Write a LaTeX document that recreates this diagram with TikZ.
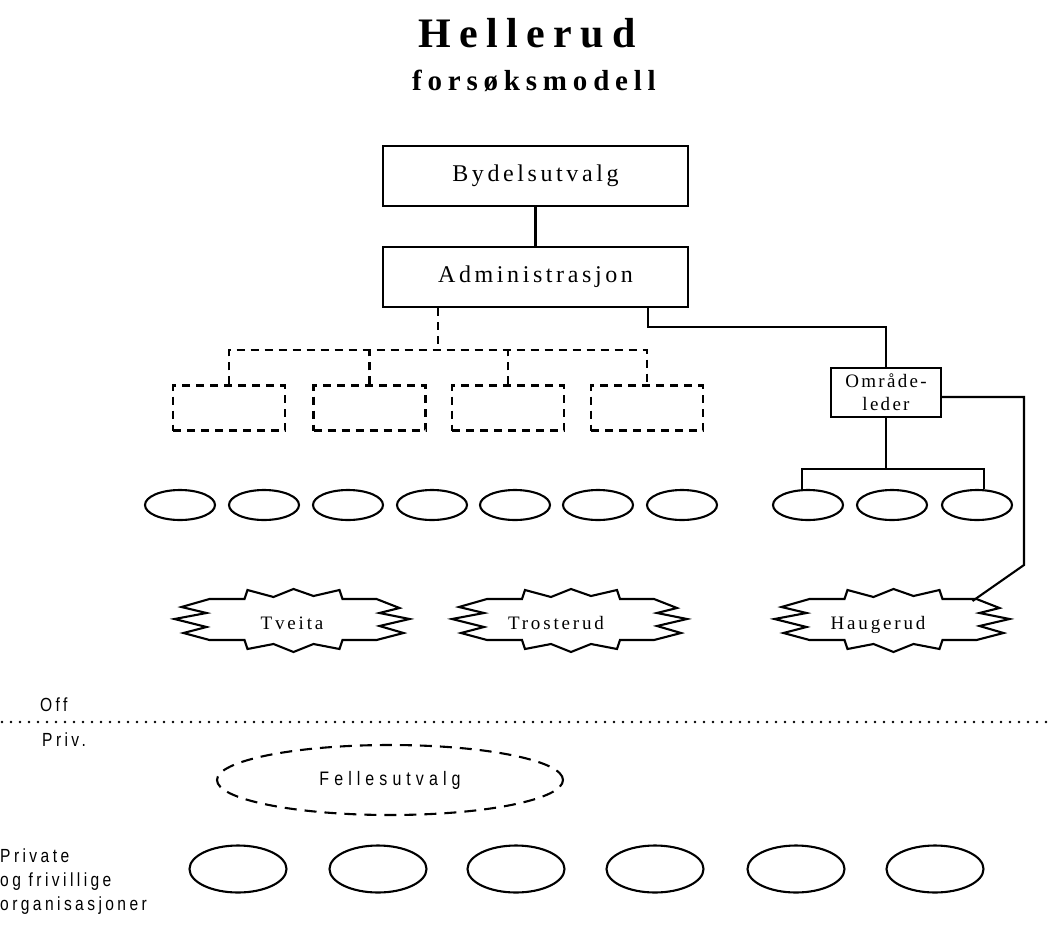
\documentclass[tikz,border=0pt]{standalone}
\usepackage{fontspec}
\setmainfont{Liberation Serif}
\newfontfamily\headfont{Liberation Serif}[LetterSpace=20]
\newfontfamily\boxfont{Liberation Serif}[LetterSpace=15]
\newfontfamily\tagfont{Liberation Sans}[FakeStretch=0.82, LetterSpace=18]
\newfontfamily\wideTagfont{Liberation Sans}[FakeStretch=0.82, LetterSpace=26]
\usetikzlibrary{shapes.geometric,calc}

\tikzset{
  wire/.style={line width=2.1pt},
  dwire/.style={line width=2.1pt, dash pattern=on 8pt off 6pt},
  box/.style={draw, line width=2.1pt, minimum width=305pt, minimum height=60pt,
    inner sep=0pt, font={\boxfont\fontsize{24}{28}\selectfont}},
  smallbox/.style={draw, line width=2.1pt, minimum width=110pt, minimum height=49pt,
    inner sep=1pt, align=center, font={\boxfont\addfontfeature{LetterSpace=12}\fontsize{19}{23}\selectfont}},
  dbox/.style={draw, line width=2.1pt, dash pattern=on 8pt off 6pt,
    minimum width=112pt, minimum height=45pt, inner sep=0pt},
  oval/.style={draw, ellipse, line width=2.1pt, minimum width=70pt,
    minimum height=30pt, inner sep=0pt},
  bigoval/.style={draw, ellipse, line width=2.1pt, minimum width=97pt,
    minimum height=47pt, inner sep=0pt},
  startext/.style={inner sep=0pt, anchor=base, font={\boxfont\fontsize{19}{23}\selectfont}},
  sidetext/.style={inner sep=0pt, anchor=west, align=left,
    font={\tagfont\fontsize{19}{24}\selectfont}},
  starburst/.pic={
    \draw[line width=2.1pt, line join=miter]
      (-83,-21) -- (-48,-21) -- (-45,-30) -- (-19,-23) -- (1,-31) -- (21,-24)
      -- (47,-30) -- (50,-21) -- (84,-21) -- (107,-12) -- (87,-7) -- (117,-1)
      -- (87,6) -- (111,13) -- (84,20) -- (50,20) -- (47,29) -- (21,24)
      -- (1,32) -- (-19,24) -- (-45,29) -- (-48,20) -- (-83,20) -- (-109,13)
      -- (-86,7) -- (-118,-1) -- (-86,-7) -- (-111,-13) -- cycle;
  }
}

\begin{document}
\begin{tikzpicture}[x=1pt, y=-1pt]
\useasboundingbox (0,0) rectangle (1049,926);

% heading
\node[anchor=base, inner sep=0pt, font={\headfont\bfseries\fontsize{42}{48}\selectfont}]
  (title) at (527,47) {Hellerud};
\node[anchor=base, inner sep=0pt, font={\headfont\bfseries\fontsize{29}{34}\selectfont}]
  (subtitle) at (534,90) {forsøksmodell};

% main chain
\node[box] (bydel) at (535.5,176) {Bydelsutvalg};
\node[box] (admin) at (535.5,277) {Administrasjon};
\draw[wire] (bydel) -- (admin);

% dashed departments
\node[dbox] (d1) at (229,408) {};
\node[dbox] (d2) at (369.5,408) {};
\node[dbox] (d3) at (508,408) {};
\node[dbox] (d4) at (647,408) {};
\coordinate (dbus) at (438,350);
\draw[dwire] (admin.south -| dbus) -- (dbus);
\draw[dwire] (d1.north) -- (d1.north |- dbus) -- (d4.north |- dbus) -- (d4.north);
\draw[dwire] (d2.north) -- (d2.north |- dbus);
\draw[dwire] (d3.north) -- (d3.north |- dbus);

% area leader
\node[smallbox] (omr) at (886,392.5) {Område-\\leder};
\coordinate (abend) at (648,327);
\draw[wire] (admin.south -| abend) -- (abend) -| (omr.north);

% units
\foreach \i/\x in {1/180,2/264,3/348,4/432,5/515,6/598,7/682,8/808,9/892,10/977}
  \node[oval] (u\i) at (\x,505) {};
\coordinate (busL) at (802,469);
\coordinate (busR) at (984,469);
\draw[wire] (omr.south) -- (omr.south |- busL);
\draw[wire] (busL |- u8.north) -- (busL) -- (busR) -- (busR |- u10.north);

% districts
\pic at (292.5,620) {starburst};
\node[startext] (tveita) at (292,629) {Tveita};
\pic at (570,620) {starburst};
\node[startext] (trosterud) at (556,629) {Trosterud};
\pic at (892.5,620) {starburst};
\node[startext] (haugerud) at (878,629) {Haugerud};
\coordinate (hgtip) at ($(892.5,620)+(80,-19)$);
\coordinate (rtop) at (1024,397);
\coordinate (rlow) at (1024,565);
\draw[wire] ([yshift=-4.5pt]omr.east) -- (rtop) -- (rlow) -- (hgtip);

% public / private divider
\draw[line width=2.6pt, line cap=round, dash pattern=on 0pt off 9pt] (2,722) -- (1049,722);
\node[sidetext] (off) at (40,705) {Off};
\node[sidetext] (priv) at (42,740) {Priv.};

% joint committee
\node[draw, ellipse, line width=2.1pt, dash pattern=on 12pt off 8pt,
  minimum width=346pt, minimum height=70pt, inner sep=0pt,
  font={\wideTagfont\fontsize{19.5}{24}\selectfont}] (felles) at (390,780) {Fellesutvalg};

% private organisations
\node[sidetext] (privorg) at (0,882)
  {Private\\og frivillige\\organisasjoner};
\foreach \i/\x in {1/238,2/378,3/516,4/655,5/796,6/935}
  \node[bigoval] (p\i) at (\x,869) {};

\end{tikzpicture}
\end{document}
